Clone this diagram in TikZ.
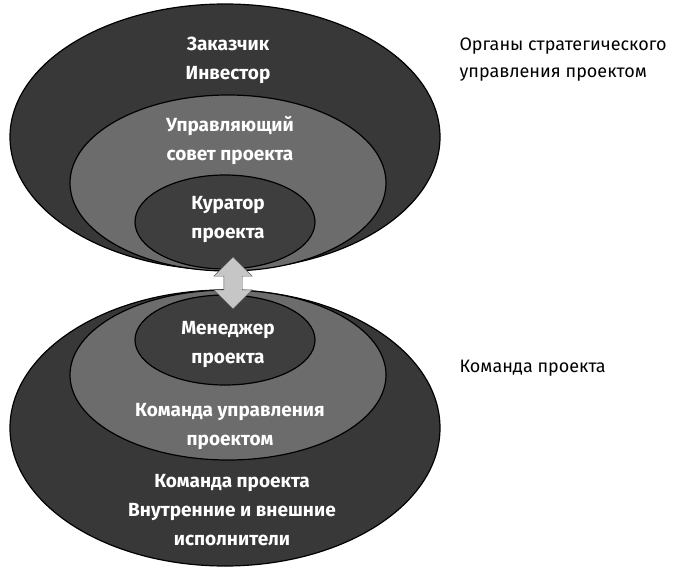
\documentclass[tikz,border=0pt]{standalone}
\usepackage{fontspec}
\setmainfont{Fira Sans}
\usetikzlibrary{shapes.arrows}
\definecolor{outerfill}{HTML}{383838}
\definecolor{midfill}{HTML}{6C6C6C}
\definecolor{innerfill}{HTML}{3E3E3E}
\tikzset{
  ring/.style={draw=black,line width=1.2pt},
  intext/.style={text=white,font=\fontsize{19}{29}\selectfont\bfseries,align=center},
  sidetext/.style={text=black,font=\fontsize{18}{27}\selectfont,align=left,anchor=west},
}
\begin{document}
\begin{tikzpicture}[x=1pt,y=-1pt]
  \useasboundingbox (0,0) rectangle (700,572);
  % top group
  \fill[outerfill] (225,137) ellipse (215 and 133);
  \draw[ring] (225,137) ellipse (215 and 133);
  \fill[midfill] (228,183) ellipse (158 and 88);
  \draw[ring] (228,183) ellipse (158 and 88);
  \fill[innerfill] (225,222) ellipse (90 and 47);
  \draw[ring] (225,222) ellipse (90 and 47);
  \node[intext] (client) at (228,60) {Заказчик\\Инвестор};
  \node[intext] (board) at (230,140) {Управляющий\\совет проекта};
  \node[intext] (curator) at (228,220) {Куратор\\проекта};
  % bottom group
  \fill[outerfill] (225,428) ellipse (215 and 138);
  \draw[ring] (225,428) ellipse (215 and 138);
  \fill[midfill] (228,375) ellipse (158 and 85);
  \draw[ring] (228,375) ellipse (158 and 85);
  \fill[innerfill] (225,340) ellipse (90 and 45);
  \draw[ring] (225,340) ellipse (90 and 45);
  \node[intext] (manager) at (228,345) {Менеджер\\проекта};
  \node[intext] (pmteam) at (230,427) {Команда управления\\проектом};
  \node[intext] (team) at (232,510) {Команда проекта\\Внутренние и внешние\\исполнители};
  % link
  \node[double arrow,rotate=90,draw=gray!70!black,fill=gray!45,
        minimum height=52pt,inner sep=9pt,double arrow head extend=10pt] (link) at (233,283) {};
  % side labels
  \node[sidetext] (strat) at (456,60) {Органы стратегического\\управления проектом};
  \node[sidetext] (teamlbl) at (456,368) {Команда проекта};
\end{tikzpicture}
\end{document}
